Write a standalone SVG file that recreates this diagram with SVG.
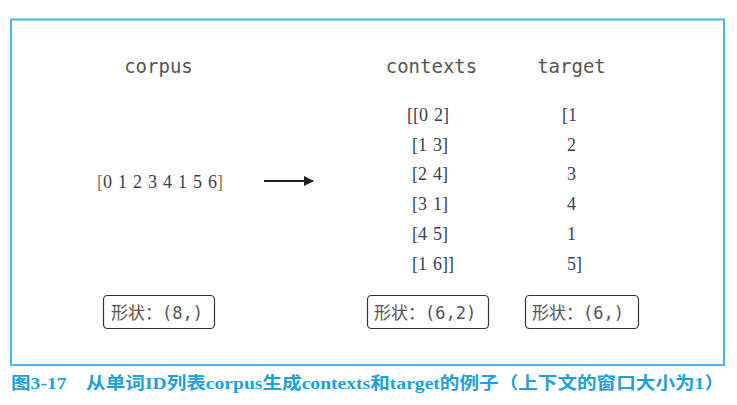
<svg xmlns="http://www.w3.org/2000/svg" width="737" height="405" viewBox="0 0 737 405">
<defs>
<style>
.hdr{font-family:"DejaVu Sans Mono","Liberation Mono",monospace;font-size:19px;fill:#555;text-anchor:middle}
.num{font-family:"Liberation Serif","DejaVu Serif",serif;font-size:18px;fill:#3a4050;word-spacing:1.5px}
.br{fill:#8a7560}
.box{fill:#fff;stroke:#333;stroke-width:1.2}
.shape{font-family:"DejaVu Sans Mono","Noto Sans CJK SC",monospace;font-size:17px;fill:#555}
.cap{font-family:"Liberation Serif","Noto Sans CJK SC",serif;font-size:17px;font-weight:600;fill:#1ea0dc}
</style>
<marker id="ah" viewBox="0 0 10 10" refX="9" refY="5" markerWidth="5" markerHeight="5" orient="auto">
<path d="M0,0 L10,5 L0,10 z" fill="#222"/>
</marker>
</defs>
<rect x="0" y="0" width="737" height="405" fill="#fff"/>
<rect x="11" y="19.5" width="713" height="345.5" fill="none" stroke="#44bce8" stroke-width="2"/>
<g id="corpus">
<text class="hdr" x="158.5" y="73">corpus</text>
<text class="num" x="97" y="188"><tspan class="br">[</tspan>0 1 2 3 4 1 5 6<tspan class="br">]</tspan></text>
</g>
<g id="contexts">
<text class="hdr" x="431.5" y="73">contexts</text>
<text class="num" x="407" y="121">[[0 2]</text>
<text class="num" x="412" y="151">[1 3]</text>
<text class="num" x="412" y="180">[2 4]</text>
<text class="num" x="412" y="210">[3 1]</text>
<text class="num" x="412" y="240">[4 5]</text>
<text class="num" x="412" y="270">[1 6]]</text>
</g>
<g id="target">
<text class="hdr" x="571.5" y="73">target</text>
<text class="num" x="562" y="121">[1</text>
<text class="num" x="567" y="151">2</text>
<text class="num" x="567" y="180">3</text>
<text class="num" x="567" y="210">4</text>
<text class="num" x="567" y="240">1</text>
<text class="num" x="567" y="270">5]</text>
</g>
<g id="connectors">
<line x1="264" y1="181" x2="313" y2="181" stroke="#222" stroke-width="2" marker-end="url(#ah)"/>
</g>
<g id="shape-corpus">
<rect class="box" x="103.5" y="295.5" width="111" height="33" rx="4"/>
<text class="shape" x="111" y="318.5">形状：(8,)</text>
</g>
<g id="shape-contexts">
<rect class="box" x="367.5" y="295.5" width="121" height="33" rx="4"/>
<text class="shape" x="374" y="318.5">形状：(6,2)</text>
</g>
<g id="shape-target">
<rect class="box" x="525.5" y="295.5" width="113" height="33" rx="4"/>
<text class="shape" x="532" y="318.5">形状：(6,)</text>
</g>
<text class="cap" x="11" y="389" textLength="713" lengthAdjust="spacingAndGlyphs">图3-17　从单词ID列表corpus生成contexts和target的例子（上下文的窗口大小为1）</text>
</svg>
